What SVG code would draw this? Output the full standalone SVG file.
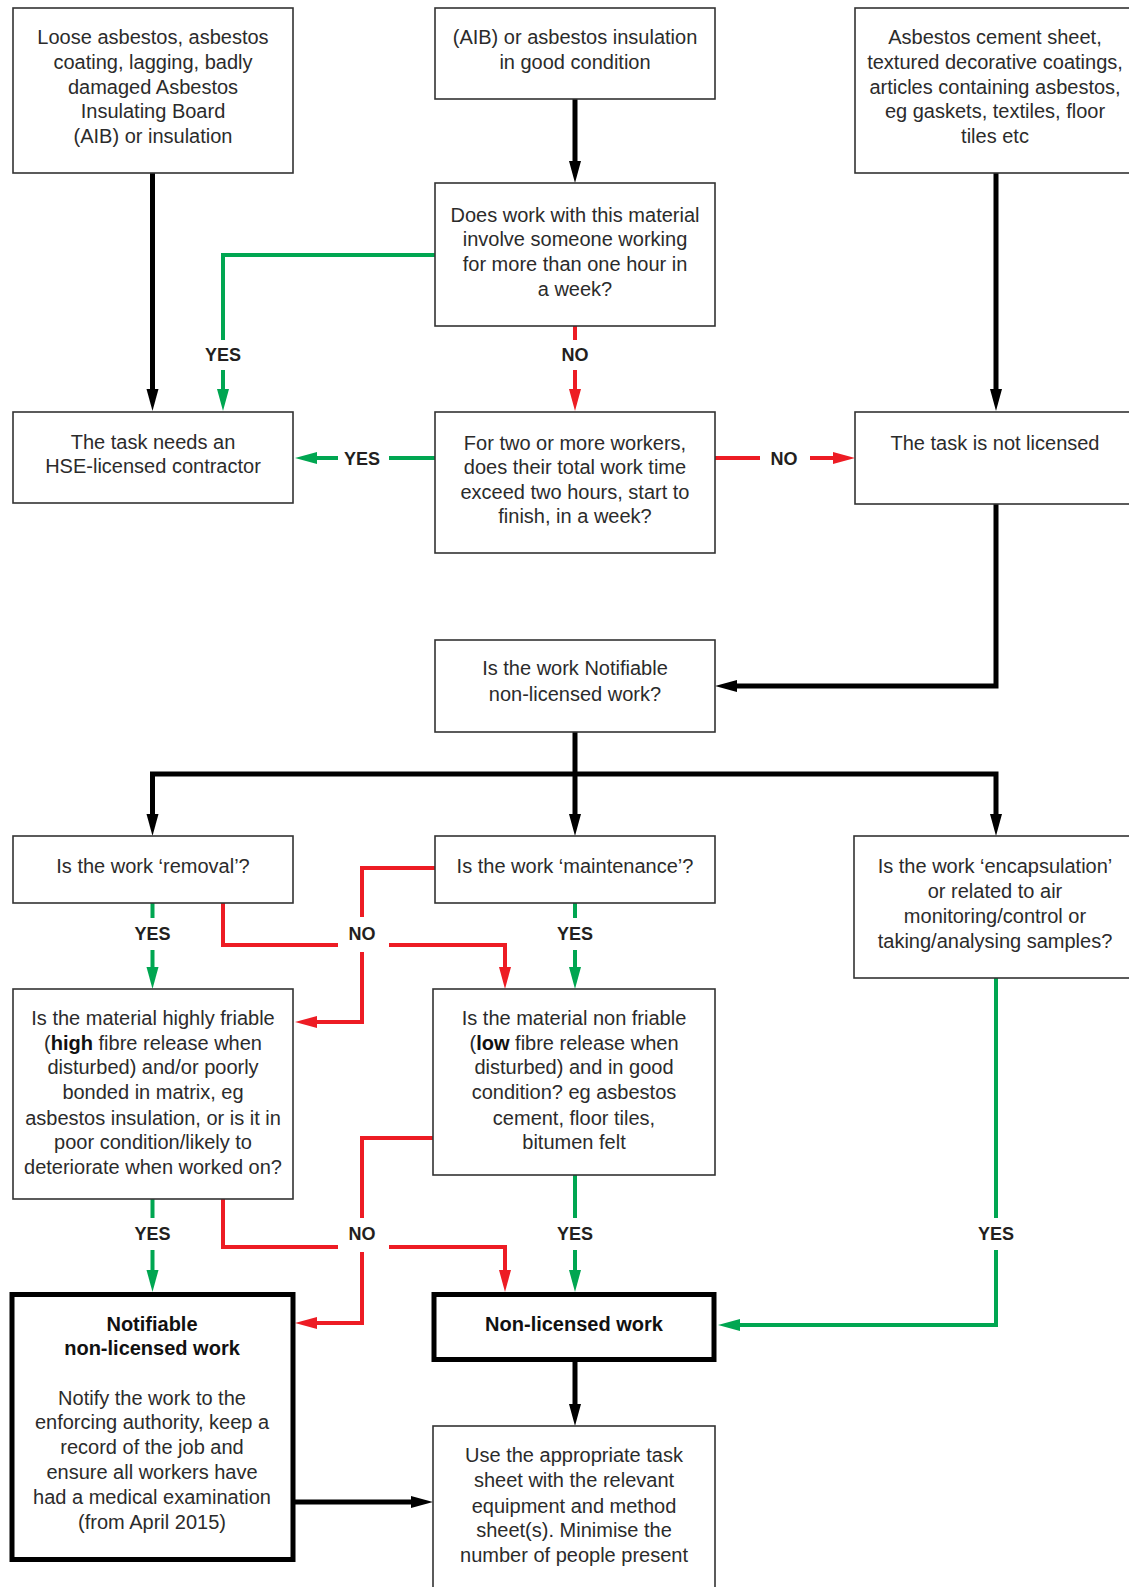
<svg xmlns="http://www.w3.org/2000/svg" width="1129" height="1587" viewBox="0 0 1129 1587">
<style>
.box{fill:#fff;stroke:#333;stroke-width:1.6}
.thick{fill:#fff;stroke:#000;stroke-width:5}
.t{font-family:"Liberation Sans",Arial,sans-serif;font-size:20px;fill:#2b2b2b;text-anchor:middle}
.b{font-weight:bold;fill:#111}
.lbl{font-family:"Liberation Sans",Arial,sans-serif;font-size:18px;font-weight:bold;fill:#231f20;text-anchor:middle}
.k{fill:none;stroke:#000;stroke-width:5}
.g{fill:none;stroke:#00a651;stroke-width:4}
.r{fill:none;stroke:#ed1c24;stroke-width:4}
.bg{fill:#fff}
</style>
<defs>
<marker id="ak" markerUnits="userSpaceOnUse" markerWidth="24" markerHeight="14" viewBox="0 -7 24 14" refX="0" refY="0" orient="auto"><path d="M0,-6 L22,0 L0,6 z" fill="#000"/></marker>
<marker id="ag" markerUnits="userSpaceOnUse" markerWidth="24" markerHeight="14" viewBox="0 -7 24 14" refX="0" refY="0" orient="auto"><path d="M0,-6 L22,0 L0,6 z" fill="#00a651"/></marker>
<marker id="ar" markerUnits="userSpaceOnUse" markerWidth="24" markerHeight="14" viewBox="0 -7 24 14" refX="0" refY="0" orient="auto"><path d="M0,-6 L22,0 L0,6 z" fill="#ed1c24"/></marker>
</defs>

<g id="connectors">
<!-- black -->
<path class="k" d="M152.5,173 V389" marker-end="url(#ak)"/>
<path class="k" d="M575,99 V161" marker-end="url(#ak)"/>
<path class="k" d="M996,173 V389" marker-end="url(#ak)"/>
<path class="k" d="M996,504 V686 H737" marker-end="url(#ak)"/>
<path class="k" d="M575,732 V814" marker-end="url(#ak)"/>
<path class="k" d="M152.5,774 V814" marker-end="url(#ak)"/>
<path class="k" d="M150,774 H996 V814" marker-end="url(#ak)"/>
<path class="k" d="M575,1361 V1404" marker-end="url(#ak)"/>
<path class="k" d="M295,1502 H411" marker-end="url(#ak)"/>
<!-- green -->
<path class="g" d="M435,255 H223 V389" marker-end="url(#ag)"/>
<path class="g" d="M435,458 H317" marker-end="url(#ag)"/>
<path class="g" d="M152.5,903 V967" marker-end="url(#ag)"/>
<path class="g" d="M575,903 V967" marker-end="url(#ag)"/>
<path class="g" d="M152.5,1199 V1270" marker-end="url(#ag)"/>
<path class="g" d="M575,1175 V1270" marker-end="url(#ag)"/>
<path class="g" d="M996,978 V1325 H740" marker-end="url(#ag)"/>
<!-- red -->
<path class="r" d="M575,326 V389" marker-end="url(#ar)"/>
<path class="r" d="M715,458 H833" marker-end="url(#ar)"/>
<path class="r" d="M435,868 H362 V1022 H317" marker-end="url(#ar)"/>
<path class="r" d="M223,903 V945 H505 V967" marker-end="url(#ar)"/>
<path class="r" d="M433,1138 H362 V1323 H317" marker-end="url(#ar)"/>
<path class="r" d="M223,1199 V1247 H505 V1270" marker-end="url(#ar)"/>
<!-- labels -->
<rect class="bg" x="200" y="340" width="46" height="30"/><text class="lbl" x="223" y="361">YES</text>
<rect class="bg" x="552" y="340" width="46" height="30"/><text class="lbl" x="575" y="361">NO</text>
<rect class="bg" x="338" y="443" width="51" height="30"/><text class="lbl" x="362" y="465">YES</text>
<rect class="bg" x="760" y="443" width="50" height="30"/><text class="lbl" x="784" y="465">NO</text>
<rect class="bg" x="128" y="918" width="48" height="32"/><text class="lbl" x="152.5" y="940">YES</text>
<rect class="bg" x="338" y="917" width="51" height="35"/><text class="lbl" x="362" y="940">NO</text>
<rect class="bg" x="551" y="918" width="48" height="32"/><text class="lbl" x="575" y="940">YES</text>
<rect class="bg" x="128" y="1218" width="48" height="32"/><text class="lbl" x="152.5" y="1240">YES</text>
<rect class="bg" x="338" y="1218" width="51" height="34"/><text class="lbl" x="362" y="1240">NO</text>
<rect class="bg" x="551" y="1218" width="48" height="32"/><text class="lbl" x="575" y="1240">YES</text>
<rect class="bg" x="972" y="1218" width="48" height="32"/><text class="lbl" x="996" y="1240">YES</text>
</g>

<g id="n1"><rect class="box" x="13" y="8" width="280" height="165"/>
<text class="t" x="153" y="44">Loose asbestos, asbestos</text>
<text class="t" x="153" y="69">coating, lagging, badly</text>
<text class="t" x="153" y="93.5">damaged Asbestos</text>
<text class="t" x="153" y="118">Insulating Board</text>
<text class="t" x="153" y="143">(AIB) or insulation</text></g>

<g id="n2"><rect class="box" x="435" y="8" width="280" height="91"/>
<text class="t" x="575" y="44">(AIB) or asbestos insulation</text>
<text class="t" x="575" y="69">in good condition</text></g>

<g id="n3"><rect class="box" x="855" y="8" width="290" height="165"/>
<text class="t" x="995" y="44">Asbestos cement sheet,</text>
<text class="t" x="995" y="69">textured decorative coatings,</text>
<text class="t" x="995" y="93.5">articles containing asbestos,</text>
<text class="t" x="995" y="118">eg gaskets, textiles, floor</text>
<text class="t" x="995" y="143">tiles etc</text></g>

<g id="n4"><rect class="box" x="435" y="183" width="280" height="143"/>
<text class="t" x="575" y="221.5">Does work with this material</text>
<text class="t" x="575" y="246">involve someone working</text>
<text class="t" x="575" y="271">for more than one hour in</text>
<text class="t" x="575" y="296">a week?</text></g>

<g id="n5"><rect class="box" x="13" y="412" width="280" height="91"/>
<text class="t" x="153" y="448.5">The task needs an</text>
<text class="t" x="153" y="473">HSE-licensed contractor</text></g>

<g id="n6"><rect class="box" x="435" y="412" width="280" height="141"/>
<text class="t" x="575" y="449.5">For two or more workers,</text>
<text class="t" x="575" y="474">does their total work time</text>
<text class="t" x="575" y="498.5">exceed two hours, start to</text>
<text class="t" x="575" y="523">finish, in a week?</text></g>

<g id="n7"><rect class="box" x="855" y="412" width="290" height="92"/>
<text class="t" x="995" y="449.5">The task is not licensed</text></g>

<g id="n8"><rect class="box" x="435" y="640" width="280" height="92"/>
<text class="t" x="575" y="675">Is the work Notifiable</text>
<text class="t" x="575" y="700.5">non-licensed work?</text></g>

<g id="n9"><rect class="box" x="13" y="836" width="280" height="67"/>
<text class="t" x="153" y="873">Is the work ‘removal’?</text></g>

<g id="n10"><rect class="box" x="435" y="836" width="280" height="67"/>
<text class="t" x="575" y="873">Is the work ‘maintenance’?</text></g>

<g id="n11"><rect class="box" x="854" y="836" width="290" height="142"/>
<text class="t" x="995" y="873">Is the work ‘encapsulation’</text>
<text class="t" x="995" y="897.5">or related to air</text>
<text class="t" x="995" y="922.5">monitoring/control or</text>
<text class="t" x="995" y="947.5">taking/analysing samples?</text></g>

<g id="n12"><rect class="box" x="13" y="989" width="280" height="210"/>
<text class="t" x="153" y="1024.5">Is the material highly friable</text>
<text class="t" x="153" y="1049.5">(<tspan class="b">high</tspan> fibre release when</text>
<text class="t" x="153" y="1074">disturbed) and/or poorly</text>
<text class="t" x="153" y="1099">bonded in matrix, eg</text>
<text class="t" x="153" y="1124.5">asbestos insulation, or is it in</text>
<text class="t" x="153" y="1149">poor condition/likely to</text>
<text class="t" x="153" y="1174">deteriorate when worked on?</text></g>

<g id="n13"><rect class="box" x="433" y="989" width="282" height="186"/>
<text class="t" x="574" y="1024.5">Is the material non friable</text>
<text class="t" x="574" y="1049.5">(<tspan class="b">low</tspan> fibre release when</text>
<text class="t" x="574" y="1074">disturbed) and in good</text>
<text class="t" x="574" y="1099">condition? eg asbestos</text>
<text class="t" x="574" y="1124.5">cement, floor tiles,</text>
<text class="t" x="574" y="1149">bitumen felt</text></g>

<g id="n14"><rect class="thick" x="12" y="1294.5" width="281" height="265"/>
<text class="t b" x="152" y="1330.5">Notifiable</text>
<text class="t b" x="152" y="1355">non-licensed work</text>
<text class="t" x="152" y="1404.5">Notify the work to the</text>
<text class="t" x="152" y="1429">enforcing authority, keep a</text>
<text class="t" x="152" y="1454">record of the job and</text>
<text class="t" x="152" y="1478.5">ensure all workers have</text>
<text class="t" x="152" y="1503.5">had a medical examination</text>
<text class="t" x="152" y="1529">(from April 2015)</text></g>

<g id="n15"><rect class="thick" x="434" y="1294.5" width="280" height="65"/>
<text class="t b" x="574" y="1330.5">Non-licensed work</text></g>

<g id="n16"><rect class="box" x="433" y="1426" width="282" height="200"/>
<text class="t" x="574" y="1462">Use the appropriate task</text>
<text class="t" x="574" y="1487">sheet with the relevant</text>
<text class="t" x="574" y="1512.5">equipment and method</text>
<text class="t" x="574" y="1537">sheet(s). Minimise the</text>
<text class="t" x="574" y="1562">number of people present</text></g>
</svg>
